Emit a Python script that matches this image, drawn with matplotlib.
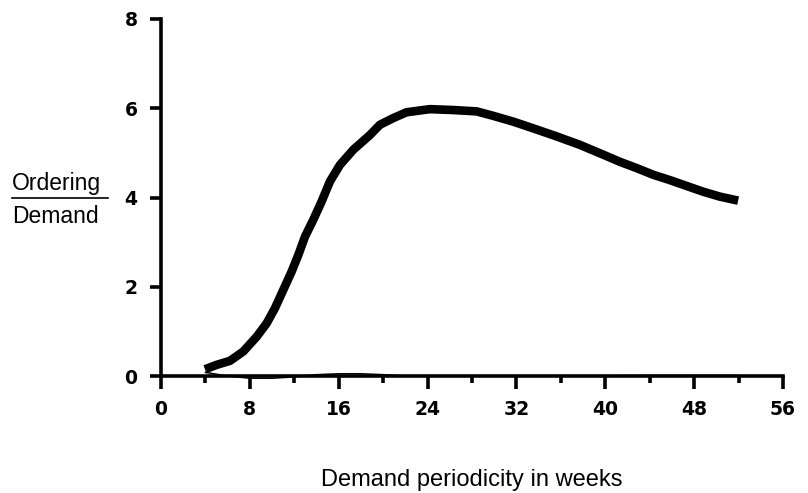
import matplotlib
matplotlib.use("Agg")
import matplotlib.pyplot as plt
from matplotlib.ticker import MultipleLocator

# Main curve: Ordering / Demand amplification vs demand periodicity
weeks = [3.96, 5.01, 6.21, 7.41, 8.61, 9.51, 10.26, 11.01, 11.76, 12.36, 12.96,
         13.71, 14.46, 15.21, 16.11, 17.31, 18.81, 19.71, 20.91, 22.11, 24.21,
         26.31, 28.41, 29.91, 31.71, 33.51, 35.61, 37.71, 39.81, 41.31, 42.81,
         44.31, 45.81, 47.31, 48.81, 50.31, 51.96]
ratio = [0.15, 0.25, 0.34, 0.55, 0.88, 1.18, 1.52, 1.93, 2.34, 2.71, 3.12,
         3.50, 3.91, 4.36, 4.73, 5.07, 5.40, 5.63, 5.78, 5.91, 5.98,
         5.96, 5.93, 5.83, 5.70, 5.55, 5.37, 5.18, 4.96, 4.80, 4.66,
         4.51, 4.39, 4.26, 4.13, 4.02, 3.93]

# Thin second series near zero
weeks2 = [4, 6, 8, 10, 12, 14, 16, 18, 20, 22, 26, 30, 36, 44, 52]
ratio2 = [0.08, 0.0, -0.05, -0.05, -0.02, 0.03, 0.05, 0.05, 0.03, 0.0, 0.0, 0.0, 0.0, 0.01, 0.01]

xticks = [0, 8, 16, 24, 32, 40, 48, 56]
yticks = [0, 2, 4, 6, 8]

fig = plt.figure(figsize=(8.08, 4.93), dpi=100)
ax = fig.add_axes([161/808, 1-376/493, (783-161)/808, (376-19)/493])

ax.plot(weeks2, ratio2, color="black", lw=1.1, clip_on=False)
ax.plot(weeks, ratio, color="black", lw=6.2, solid_capstyle="butt",
        solid_joinstyle="round", clip_on=False)

ax.set_xlim(0, 56)
ax.set_ylim(0, 8)
ax.set_xticks(xticks)
ax.set_yticks(yticks)
ax.xaxis.set_minor_locator(MultipleLocator(4))

for s in ["top", "right"]:
    ax.spines[s].set_visible(False)
for s in ["left", "bottom"]:
    ax.spines[s].set_linewidth(2.6)

tickfont = dict(family="DejaVu Sans", weight="bold", size=13.5)
ax.tick_params(axis="x", which="major", direction="out", length=9, width=2.6, pad=8)
ax.tick_params(axis="x", which="minor", direction="out", length=5, width=2.6)
ax.tick_params(axis="y", which="major", direction="out", length=8, width=2.6, pad=9)
ax.set_xticklabels([str(t) for t in xticks], **tickfont)
ax.set_yticklabels([str(t) for t in yticks], **tickfont)

fig.text(472/808, 1-480/493, "Demand periodicity in weeks", family="Liberation Sans",
         size=17, ha="center", va="center")
fig.text(12/808, 1-190/493, "Ordering", family="Liberation Sans", size=16.5,
         ha="left", va="baseline")
fig.add_artist(plt.Line2D([12/808, 108/808], [1-198/493, 1-198/493],
                          color="black", lw=1.2))
fig.text(12/808, 1-223/493, "Demand", family="Liberation Sans", size=16.5,
         ha="left", va="baseline")

fig.savefig("out.png", dpi=100)
